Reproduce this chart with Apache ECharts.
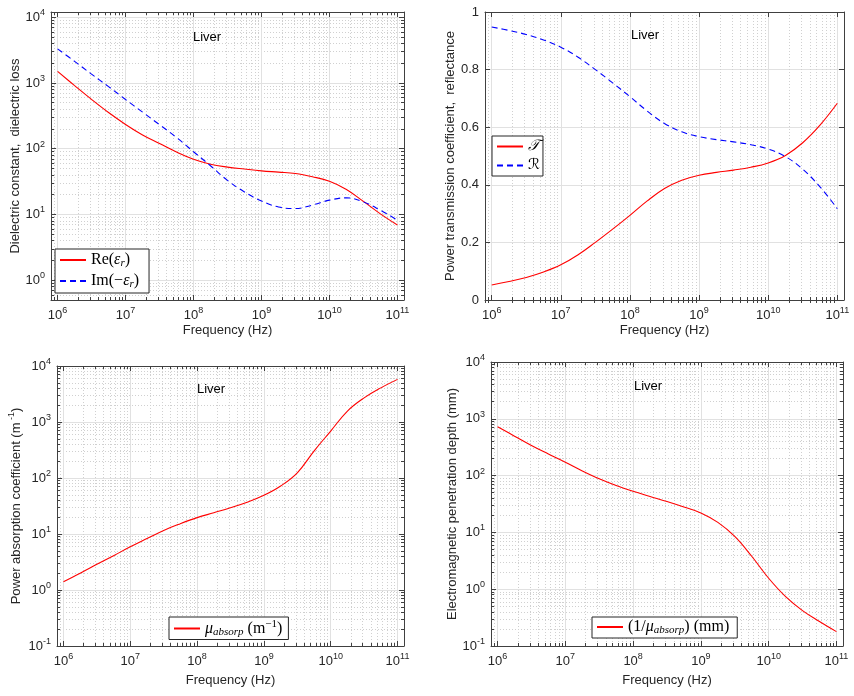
<!DOCTYPE html>
<html>
<head>
<meta charset="utf-8">
<title>Liver</title>
<script src="https://cdn.jsdelivr.net/npm/echarts@6/dist/echarts.min.js"></script>
<style>
  html, body { margin: 0; padding: 0; background: #fff; }
  #chart { width: 854px; height: 696px; }
</style>
</head>
<body>
<div id="chart"></div>
<script>
"use strict";

// frequency points (Hz), quarter-decade steps
const freq = [1e6, 1.78e6, 3.16e6, 5.62e6, 1e7, 1.78e7, 3.16e7, 5.62e7, 1e8, 1.78e8, 3.16e8, 5.62e8,
  1e9, 1.78e9, 3.16e9, 5.62e9, 1e10, 1.78e10, 3.16e10, 5.62e10, 1e11];

// top left: dielectric constant / loss
const epsReal = [1500, 912, 562, 355, 234, 162, 120, 89, 69, 58, 52.5, 49,
  46, 44, 42, 37.5, 32, 24, 15.8, 10.2, 6.9];
const epsImag = [3300, 2130, 1360, 880, 560, 360, 232, 148, 90, 55, 33, 22,
  16, 13, 12.3, 13.9, 16.5, 17.9, 15.5, 11.6, 8.2];

// top right: transmission / reflectance
const transT = [0.052, 0.064, 0.078, 0.097, 0.122, 0.157, 0.2, 0.246, 0.294, 0.344, 0.387, 0.416,
  0.433, 0.443, 0.451, 0.461, 0.476, 0.502, 0.546, 0.607, 0.683];
const reflR = [0.948, 0.936, 0.922, 0.903, 0.878, 0.843, 0.8, 0.754, 0.706, 0.656, 0.613, 0.584,
  0.567, 0.557, 0.549, 0.539, 0.524, 0.498, 0.454, 0.393, 0.317];

// bottom left: absorption coefficient (1/m)
const muAbs = [1.41, 2.0, 2.87, 4.1, 5.9, 8.3, 11.6, 15.3, 19.6, 24, 29.5, 37,
  49, 72, 124, 303, 690, 1570, 2700, 4070, 5770];

// bottom right: penetration depth (mm)
const depthMm = [724, 495, 338, 240, 172, 121, 88, 67, 53, 43, 35, 28,
  22, 15, 8.5, 3.8, 1.56, 0.74, 0.42, 0.27, 0.179];

const decadeTicks = [1e-1, 1, 1e1, 1e2, 1e3, 1e4, 1e5, 1e6, 1e7, 1e8, 1e9, 1e10, 1e11];
const minorMult = [2, 3, 4, 5, 6, 7, 8, 9];

const FONT = '"Liberation Sans", Arial, Helvetica, sans-serif';
const SERIF = '"Liberation Serif", "DejaVu Serif", serif';
const INK = '#262626';

const minorTicks = [];
decadeTicks.forEach(d => minorMult.forEach(m => minorTicks.push(+(m * d).toPrecision(3))));

const xAxis = [], yAxis = [], series = [];

function powLabel(v) {
  const e = Math.round(Math.log10(v));
  return '{b|10}{p|' + e + '}';
}

const powRich = {
  b: { fontSize: 13, color: INK, fontFamily: FONT },
  p: { fontSize: 9, color: INK, fontFamily: FONT, padding: [0, 0, 9, 0] }
};

const nameRich = {
  t: { fontSize: 13, color: INK, fontFamily: FONT },
  p: { fontSize: 9, color: INK, fontFamily: FONT, padding: [0, 0, 9, 0] }
};

// adds main axis + opposite-side tick axis (+ minor grid axes for log) ; returns main index
function addAxes(list, gi, dim, opt) {
  const pos = dim === 'x' ? ['bottom', 'top'] : ['left', 'right'];
  const base = { gridIndex: gi, type: opt.log ? 'log' : 'value', min: opt.min, max: opt.max };
  if (!opt.log) base.interval = opt.interval;
  const lineStyle = { color: '#404040', width: 1 };
  const mainIdx = list.length;

  const tick = { show: true, inside: true, length: 5, lineStyle: lineStyle };
  const label = { show: true, margin: 6, color: INK, fontSize: 13, fontFamily: FONT };
  if (opt.log) {
    tick.customValues = decadeTicks;
    label.customValues = decadeTicks;
    label.formatter = powLabel;
    label.rich = powRich;
  }

  list.push(Object.assign({}, base, {
    position: pos[0],
    name: opt.name,
    nameLocation: 'middle',
    nameGap: opt.nameGap,
    nameTextStyle: { fontSize: 13, color: INK, fontFamily: FONT, rich: nameRich },
    axisLine: { show: true, onZero: false, lineStyle: lineStyle },
    axisTick: tick,
    axisLabel: label,
    splitLine: { show: true, lineStyle: { color: '#e1e1e1', width: 1 } }
  }));

  list.push(Object.assign({}, base, {
    position: pos[1],
    axisLine: { show: true, onZero: false, lineStyle: lineStyle },
    axisTick: Object.assign({}, tick),
    axisLabel: { show: false },
    splitLine: { show: false }
  }));

  if (opt.log) {
    const minorTick = { show: true, inside: true, length: 3, customValues: minorTicks, lineStyle: lineStyle };
    list.push(Object.assign({}, base, {
      position: pos[0],
      axisLine: { show: false },
      axisTick: minorTick,
      axisLabel: { show: false },
      splitLine: { show: true, lineStyle: { color: '#d0d0d0', width: 1, type: [1, 2] } }
    }));
    list.push(Object.assign({}, base, {
      position: pos[1],
      axisLine: { show: false },
      axisTick: Object.assign({}, minorTick),
      axisLabel: { show: false },
      splitLine: { show: false }
    }));
  }
  return mainIdx;
}

function pairs(ys) {
  return freq.map((f, i) => [f, ys[i]]);
}

function addLine(name, xi, yi, ys, color, dashed) {
  series.push({
    name: name,
    type: 'line',
    xAxisIndex: xi,
    yAxisIndex: yi,
    data: pairs(ys),
    smooth: 0.4,
    symbol: 'none',
    showSymbol: false,
    lineStyle: { color: color, width: 1.1, type: dashed ? [6, 4] : 'solid' },
    itemStyle: { color: color },
    z: 5
  });
}

const grids = [
  { left: 51, top: 12, width: 353, height: 288 },
  { left: 485, top: 12, width: 359, height: 288 },
  { left: 57, top: 366, width: 347, height: 280 },
  { left: 491, top: 362, width: 352, height: 284 }
];

const xMin = 8e5, xMax = 1.25e11;

// panel 1
let xi = addAxes(xAxis, 0, 'x', { log: true, min: xMin, max: xMax, name: 'Frequency (Hz)', nameGap: 24 });
let yi = addAxes(yAxis, 0, 'y', { log: true, min: 0.5, max: 1.2e4, name: 'Dielectric constant,  dielectric loss', nameGap: 29 });
addLine('Re(εr)', xi, yi, epsReal, '#ff0000', false);
addLine('Im(-εr)', xi, yi, epsImag, '#0000ff', true);

// panel 2
xi = addAxes(xAxis, 1, 'x', { log: true, min: xMin, max: xMax, name: 'Frequency (Hz)', nameGap: 24 });
yi = addAxes(yAxis, 1, 'y', { log: false, min: 0, max: 1, interval: 0.2, name: 'Power transmission coefficient,  reflectance', nameGap: 27 });
addLine('T', xi, yi, transT, '#ff0000', false);
addLine('R', xi, yi, reflR, '#0000ff', true);

// panel 3
xi = addAxes(xAxis, 2, 'x', { log: true, min: xMin, max: xMax, name: 'Frequency (Hz)', nameGap: 28 });
yi = addAxes(yAxis, 2, 'y', { log: true, min: 0.1, max: 1e4, name: '{t|Power absorption coefficient (m}{p| -1}{t|)}', nameGap: 32 });
addLine('mu', xi, yi, muAbs, '#ff0000', false);

// panel 4
xi = addAxes(xAxis, 3, 'x', { log: true, min: xMin, max: xMax, name: 'Frequency (Hz)', nameGap: 28 });
yi = addAxes(yAxis, 3, 'y', { log: true, min: 0.1, max: 1e4, name: 'Electromagnetic penetration depth (mm)', nameGap: 32 });
addLine('depth', xi, yi, depthMm, '#ff0000', false);

const legendText = {
  'Re(εr)': '{r|Re(}{i|ε}{s|r}{r|)}',
  'Im(-εr)': '{r|Im(−}{i|ε}{s|r}{r|)}',
  'T': '{c|𝒯}',
  'R': '{c|ℛ}',
  'mu': '{i|μ}{s|absorp}{r| (m}{u|−1}{r|)}',
  'depth': '{r|(1/}{i|μ}{s|absorp}{r|) (mm)}'
};

const legendRich = {
  r: { fontFamily: SERIF, fontSize: 16, color: '#000' },
  i: { fontFamily: SERIF, fontSize: 16, fontStyle: 'italic', color: '#000' },
  c: { fontFamily: '"DejaVu Serif", "DejaVu Sans", serif', fontSize: 15, fontStyle: 'italic', color: '#000' },
  s: { fontFamily: SERIF, fontSize: 11, fontStyle: 'italic', color: '#000', padding: [7, 0, 0, 0] },
  u: { fontFamily: SERIF, fontSize: 11, color: '#000', padding: [0, 0, 8, 0] }
};

function makeLegend(names, left, top, pad) {
  return {
    data: names,
    left: left,
    top: top,
    orient: 'vertical',
    itemWidth: 26,
    itemHeight: 12,
    itemGap: 4,
    padding: pad,
    borderColor: INK,
    borderWidth: 1,
    backgroundColor: '#ffffff',
    selectedMode: false,
    itemStyle: { color: 'rgba(0,0,0,0)', borderColor: 'rgba(0,0,0,0)', borderWidth: 0 },
    formatter: name => legendText[name],
    textStyle: { rich: legendRich }
  };
}

function liver(x, y) {
  return {
    type: 'text',
    x: x,
    y: y,
    z: 10,
    style: { text: 'Liver', font: '13px ' + FONT, fill: '#000', align: 'center', verticalAlign: 'middle' }
  };
}

const chart = echarts.init(document.getElementById('chart'));
chart.setOption({
  animation: false,
  backgroundColor: '#ffffff',
  grid: grids,
  xAxis: xAxis,
  yAxis: yAxis,
  legend: [
    makeLegend(['Re(εr)', 'Im(-εr)'], 55, 249, [3, 10, 3, 4]),
    makeLegend(['T', 'R'], 492, 136, [3, 3, 3, 4]),
    makeLegend(['mu'], 169, 617, [2, 6, 2, 4]),
    makeLegend(['depth'], 592, 617, [2, 8, 2, 4])
  ],
  graphic: [liver(207, 37), liver(645, 35), liver(211, 389), liver(648, 386)],
  series: series
});
</script>
</body>
</html>
